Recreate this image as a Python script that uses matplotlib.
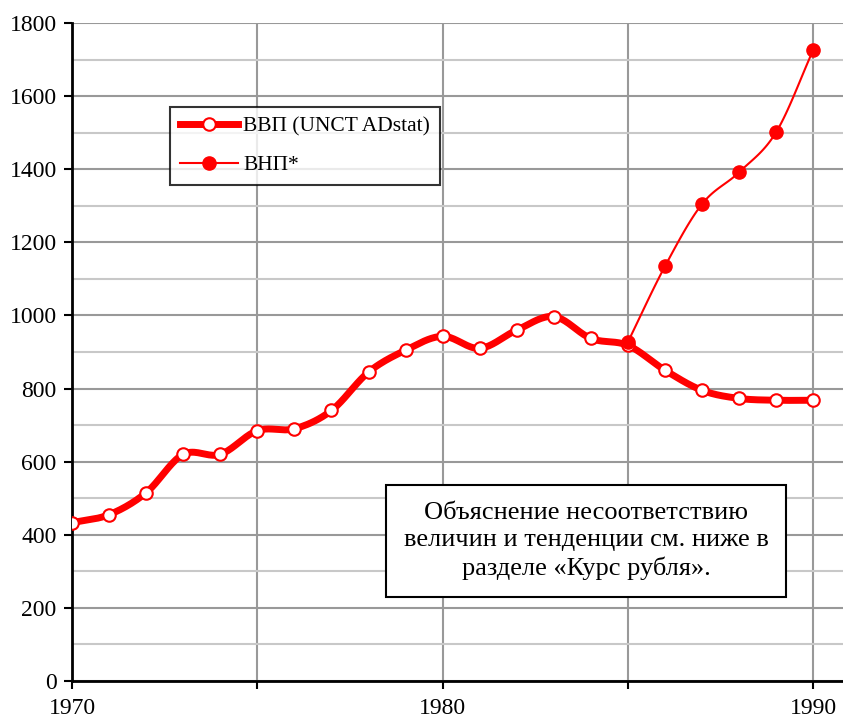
import numpy as np
import matplotlib.pyplot as plt
from matplotlib.ticker import MultipleLocator

plt.rcParams['font.family'] = ['Liberation Serif', 'DejaVu Serif']

years = np.arange(1970, 1991)
gdp = [433, 455, 515, 620, 620, 685, 690, 740, 845, 905, 943,
       910, 960, 997, 937, 918, 850, 795, 773, 768, 768]
gnp_years = np.arange(1985, 1991)
gnp = [928, 1135, 1305, 1392, 1502, 1727]


def smooth(x, y, n=20):
    # Catmull-Rom curve through the points, like Excel's smoothed line
    x = np.asarray(x, float); y = np.asarray(y, float)
    px = np.concatenate([[2*x[0]-x[1]], x, [2*x[-1]-x[-2]]])
    py = np.concatenate([[2*y[0]-y[1]], y, [2*y[-1]-y[-2]]])
    ox, oy = [], []
    t = np.linspace(0, 1, n, endpoint=False)
    for i in range(1, len(px)-2):
        for p, o in ((px, ox), (py, oy)):
            p0, p1, p2, p3 = p[i-1], p[i], p[i+1], p[i+2]
            o.extend(0.5*((2*p1) + (-p0+p2)*t + (2*p0-5*p1+4*p2-p3)*t**2
                          + (-p0+3*p1-3*p2+p3)*t**3))
    ox.append(x[-1]); oy.append(y[-1])
    return np.array(ox), np.array(oy)


fig = plt.figure(figsize=(8.43, 7.21), dpi=100)
ax = fig.add_axes([72/843, 1-681/721, 1-72/843, (681-23)/721])

red = '#ff0000'
sx, sy = smooth(years, gdp)
ax.plot(sx, sy, color=red, lw=5, solid_capstyle='butt', zorder=3)
ax.plot(years, gdp, ls='none', marker='o', ms=9, mfc='white', mec=red,
        mew=1.5, zorder=4)
gx, gy = smooth(gnp_years, gnp)
ax.plot(gx, gy, color=red, lw=1.5, zorder=5)
ax.plot(gnp_years, gnp, ls='none', marker='o', ms=9.5, mfc=red, mec=red,
        zorder=6)

# legend proxies
ax.plot([], [], color=red, lw=5, marker='o', ms=9, mfc='white', mec=red,
        mew=1.5, label='ВВП (UNCT ADstat)')
ax.plot([], [], color=red, lw=1.5, marker='o', ms=9.5, mfc=red, mec=red,
        label='ВНП*')

ax.set_xlim(1970, 1990.8)
ax.set_ylim(0, 1800)
ax.yaxis.set_major_locator(MultipleLocator(200))
ax.yaxis.set_minor_locator(MultipleLocator(100))
ax.set_xticks([1970, 1975, 1980, 1985, 1990])
ax.set_xticklabels(['1970', '', '1980', '', '1990'])
ax.tick_params(labelsize=17, direction='out', length=6, width=1.5)
ax.tick_params(axis='x', pad=6)
ax.tick_params(axis='y', pad=5)
ax.tick_params(which='minor', length=0)
ax.grid(True, which='major', color='#999999', lw=1.5)
ax.grid(True, which='minor', axis='y', color='#c8c8c8', lw=1.5)
ax.set_axisbelow(True)
for s in ('top', 'right'):
    ax.spines[s].set_visible(False)
for s in ('left', 'bottom'):
    ax.spines[s].set_linewidth(2)

leg = ax.legend(loc='upper left', bbox_to_anchor=(98/771, 1-84/658),
                prop={'size': 15.5}, frameon=True, fancybox=False,
                edgecolor='black', handlelength=2.7, handletextpad=0.25,
                borderpad=0.45, labelspacing=0.85, borderaxespad=0)
leg.get_frame().set_linewidth(1.5)
leg.set_zorder(10)

ax.text(586, 721-541, 'Объяснение несоответствию\nвеличин и тенденции см. ниже в\n'
        'разделе «Курс рубля».', transform=None, fontsize=19, ha='center',
        va='center', linespacing=1.3, zorder=10,
        bbox=dict(boxstyle='square,pad=0.65', fc='white', ec='black', lw=1.5))

fig.savefig('out.png', dpi=100)
